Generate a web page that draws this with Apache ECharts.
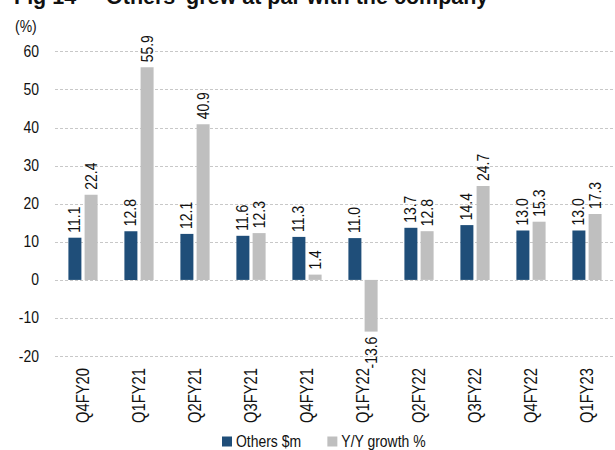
<!DOCTYPE html>
<html>
<head>
<meta charset="utf-8">
<script src="https://cdn.jsdelivr.net/npm/echarts@6/dist/echarts.min.js"></script>
<style>
  html, body { margin: 0; padding: 0; background: #fff; }
  #chart { width: 615px; height: 450px; overflow: hidden; }
</style>
</head>
<body>
<div id="chart"></div>
<script>
// Quarterly revenue of the "Others" segment and its year-on-year growth
const quarters = ['Q4FY20', 'Q1FY21', 'Q2FY21', 'Q3FY21', 'Q4FY21', 'Q1FY22', 'Q2FY22', 'Q3FY22', 'Q4FY22', 'Q1FY23'];
const othersRevenue = [11.1, 12.8, 12.1, 11.6, 11.3, 11.0, 13.7, 14.4, 13.0, 13.0];
const yoyGrowth = [22.4, 55.9, 40.9, 12.3, 1.4, -13.6, 12.8, 24.7, 15.3, 17.3];
const yTicks = { min: -20, max: 60, interval: 10 };

const FONT = 'Liberation Sans, Arial, sans-serif';
// Horizontal squeeze that turns Arial metrics into a narrow face
const NARROW = 0.82;

const valueLabel = {
  show: true,
  position: 'top',
  rotate: 90,
  align: 'left',
  verticalAlign: 'middle',
  distance: 5,
  color: '#111',
  fontFamily: FONT,
  fontSize: 17,
  formatter: p => p.value.toFixed(1)
};

// Negative values get their label beneath the bar
const growthData = yoyGrowth.map(v => v < 0
  ? { value: v, label: { position: 'bottom', align: 'right' } }
  : v);

const option = {
  animation: false,
  backgroundColor: '#fff',
  title: {
    text: 'Fig 14 \u2013 \u2018Others\u2019 grew at par with the company',
    left: 9,
    top: -19,
    textStyle: { fontFamily: FONT, fontSize: 21.5, fontWeight: 'bold', color: '#111' }
  },
  graphic: [{
    type: 'text',
    left: 15,
    top: 18,
    style: { text: '(%)', font: '17px ' + FONT, fill: '#111' }
  }],
  legend: {
    top: 428,
    left: 217,
    itemWidth: 10,
    itemHeight: 10,
    itemGap: 12,
    icon: 'rect',
    textStyle: { fontFamily: FONT, fontSize: 17, color: '#111', padding: [0, 0, 0, -1] },
    data: ['Others $m', 'Y/Y growth %']
  },
  grid: { left: 55, right: -10, top: 51.7, bottom: 94, containLabel: false },
  xAxis: {
    type: 'category',
    data: quarters,
    axisLine: { show: false, onZero: false },
    axisTick: { show: false },
    axisLabel: {
      rotate: 90,
      margin: 12,
      interval: 0,
      color: '#111',
      fontFamily: FONT,
      fontSize: 18
    }
  },
  yAxis: {
    type: 'value',
    min: yTicks.min,
    max: yTicks.max,
    interval: yTicks.interval,
    axisLine: { show: false },
    axisTick: { show: false },
    axisLabel: { margin: 16, color: '#111', fontFamily: FONT, fontSize: 17 },
    splitLine: { lineStyle: { color: '#c8c8c8', type: [3, 2], width: 1 } }
  },
  series: [
    {
      name: 'Others $m',
      type: 'bar',
      data: othersRevenue,
      barWidth: 13,
      barGap: '25%',
      itemStyle: { color: '#1f4e79' },
      label: valueLabel
    },
    {
      name: 'Y/Y growth %',
      type: 'bar',
      data: growthData,
      barWidth: 13,
      itemStyle: { color: '#bfbfbf' },
      label: valueLabel
    }
  ]
};

const chart = echarts.init(null, null, { renderer: 'svg', ssr: true, width: 615, height: 450 });
chart.setOption(option);
const host = document.getElementById('chart');
host.innerHTML = chart.renderToSVGString();

// Condense the chart's text runs along their own direction (the bold heading keeps full width)
host.querySelectorAll('text').forEach(t => {
  if (/bold/.test(t.getAttribute('style') || '')) return;
  const len = t.getComputedTextLength();
  if (len > 0) {
    t.setAttribute('textLength', (len * NARROW).toFixed(2));
    t.setAttribute('lengthAdjust', 'spacingAndGlyphs');
  }
});
</script>
</body>
</html>
